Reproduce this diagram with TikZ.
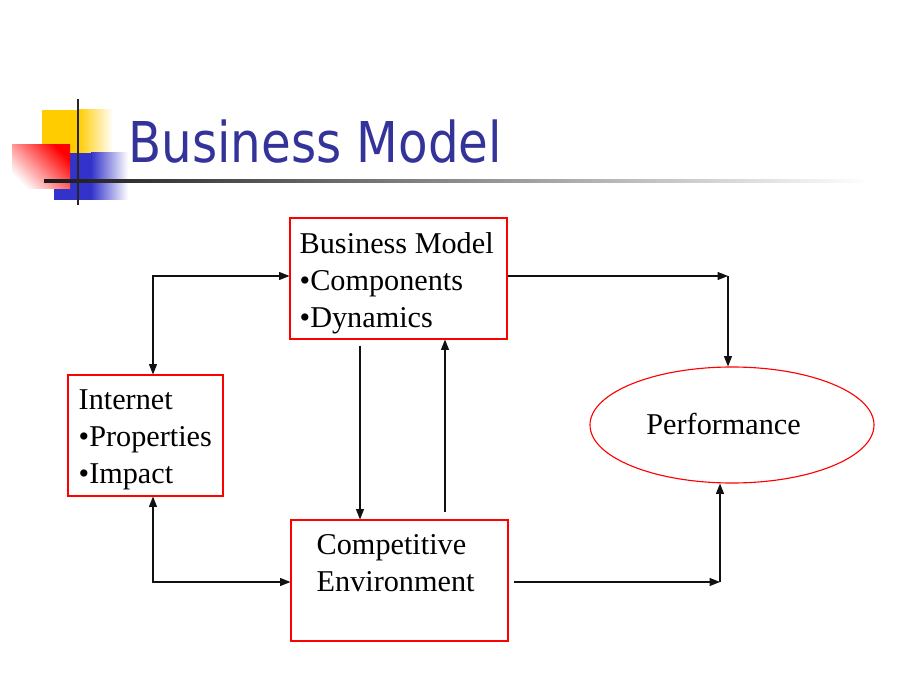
\documentclass[tikz,border=0pt]{standalone}
\usepackage{fontspec}
\setmainfont{Liberation Serif}
\newfontfamily\titlefont[FakeStretch=0.86]{DejaVu Sans}
\usetikzlibrary{shapes.geometric, arrows.meta, positioning, calc, shadings}
\usepackage{xcolor}
\definecolor{titleblue}{HTML}{333399}
\definecolor{boxred}{HTML}{FF0000}
\definecolor{decoyellow}{HTML}{FFCC00}
\definecolor{decoblue}{HTML}{3333CC}
\definecolor{linegrey}{HTML}{111111}
\tikzset{
  modelbox/.style={rectangle, draw=boxred, line width=0.8pt,
                   minimum width=5.425cm, minimum height=3.025cm, inner sep=0pt},
  netbox/.style={modelbox, minimum width=3.875cm},
  perfell/.style={ellipse, draw=boxred, line width=0.8pt,
                  minimum width=7.1cm, minimum height=2.9cm, inner sep=0pt},
  boxtext/.style={anchor=north west, inner sep=0pt, align=left,
                  font={\fontsize{21.5}{26.3}\selectfont}},
  link/.style={->, line width=0.8pt, >={Triangle[length=2.6mm,width=2mm]}, draw=linegrey},
  biglink/.style={<->, line width=0.8pt, >={Triangle[length=2.6mm,width=2mm]}, draw=linegrey},
}

\begin{document}
\begin{tikzpicture}[x=1cm, y=1cm]
  \useasboundingbox (0,0) rectangle (23,17.25);

  % --- Title decoration ---
  \fill[decoyellow] (1.05,13.425) rectangle (1.95,14.5);
  \shade[left color=decoyellow, right color=white] (1.95,13.425) rectangle (2.825,14.5);
  \fill[decoblue] (1.35,12.25) rectangle (2.275,13.425);
  \shade[left color=decoblue, right color=white] (2.275,12.25) rectangle (3.2,13.425);
  \shade[top color=red, bottom color=white, shading angle=-45]
        (0.3,12.525) rectangle (1.75,13.625);
  \shade[left color=black!90, middle color=black!35, right color=white]
        (1.1,12.69) rectangle (21.75,12.76);
  \draw[line width=2pt, black!85] (1.95,12.125) -- (1.95,14.775);

  % --- Title ---
  \node[anchor=base west, inner sep=0pt, text=titleblue,
        font={\titlefont\fontsize{40}{48}\selectfont}] (title) at (3.2,13.175) {Business Model};

  % --- Boxes ---
  \node[modelbox] (bm) at (9.9625,10.2875) {};
  \node[boxtext] (bmtext) at ([xshift=0.25cm, yshift=-0.38cm]bm.north west)
       {Business Model\\\textbullet Components\\\textbullet Dynamics};

  \node[netbox] (inet) at (3.6375,6.3625) {};
  \node[boxtext] (inettext) at ([xshift=0.275cm, yshift=-0.38cm]inet.north west)
       {Internet\\\textbullet Properties\\\textbullet Impact};

  \node[modelbox] (env) at (9.9875,2.7375) {};
  \node[boxtext] (envtext) at ([xshift=0.65cm, yshift=-0.37cm]env.north west)
       {Competitive\\Environment};

  \node[perfell] (perf) at (18.3,6.625) {};
  \node[inner sep=0pt, font={\fontsize{21.5}{26.3}\selectfont}] (perftext)
       at ([xshift=-0.21cm, yshift=0.03cm]perf.center) {Performance};

  % --- Corners ---
  \coordinate (tl) at (3.825,10.35);
  \coordinate (bl) at (3.825,2.7);
  \coordinate (tr) at (18.2,10.35);
  \coordinate (br) at (18.0,2.7);

  % --- Internet <-> business model / environment ---
  \draw[biglink] (tl |- inet.north) -- (tl) -- (tl -| bm.west);
  \draw[biglink] (bl |- inet.south) -- (bl) -- (bl -| env.west);

  % --- Business model <-> environment ---
  \draw[link] ([xshift=-0.9625cm, yshift=-0.15cm]bm.south) -- ([xshift=-0.9625cm]bm.south |- env.north);
  \draw[link] ([xshift=1.1625cm, yshift=0.18cm]bm.south |- env.north) -- ([xshift=1.1625cm]bm.south);

  % --- To performance ---
  \draw[link] (tr -| bm.east) -- (tr);
  \draw[link] (tr) -- (tr |- perf.north);
  \draw[link] ([xshift=0.125cm]env.east |- br) -- (br);
  \draw[link] (br) -- (br |- perf.south);

\end{tikzpicture}
\end{document}
